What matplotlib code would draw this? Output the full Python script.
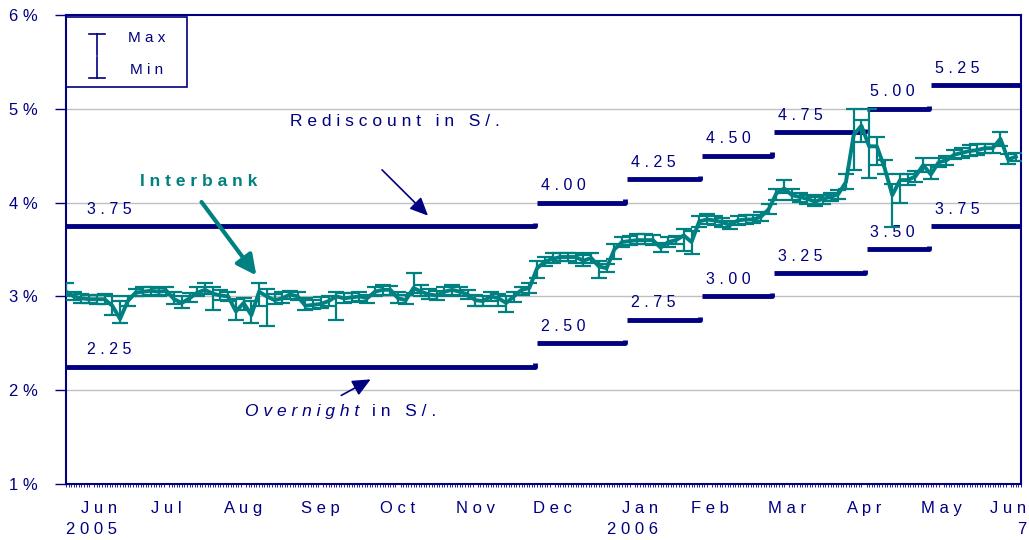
import matplotlib
matplotlib.use('Agg')
import matplotlib.pyplot as plt
import matplotlib.dates as mdates
import numpy as np
import pandas as pd

plt.rcParams['font.family'] = ['Liberation Sans', 'DejaVu Sans']

NAVY = '#000080'
TEAL = '#008080'

# interbank rate, sampled every 3 days from 1 Jun 2005
ib_dates = pd.date_range('2005-06-01', periods=124, freq='3D')
ib_mid = [3.05, 3.00, 2.98, 2.97, 2.97, 2.97, 2.90, 2.76, 2.95, 3.04,
          3.05, 3.06, 3.05, 3.06, 2.97, 2.93, 2.98, 3.04, 3.07, 3.03,
          3.01, 3.00, 2.84, 2.93, 2.80, 3.05, 3.00, 2.96, 2.98, 3.02,
          3.00, 2.90, 2.91, 2.92, 2.95, 3.00, 2.98, 2.99, 3.00, 2.98,
          3.05, 3.07, 3.07, 2.98, 2.96, 3.09, 3.05, 3.02, 3.01, 3.05,
          3.07, 3.05, 3.02, 2.96, 2.95, 3.00, 2.98, 2.93, 3.00, 3.07,
          3.09, 3.30, 3.37, 3.40, 3.42, 3.42, 3.42, 3.38, 3.41, 3.32,
          3.30, 3.50, 3.58, 3.59, 3.60, 3.60, 3.60, 3.52, 3.58, 3.60,
          3.65, 3.58, 3.80, 3.82, 3.81, 3.79, 3.76, 3.81, 3.82, 3.82,
          3.85, 3.93, 4.10, 4.15, 4.08, 4.06, 4.04, 4.01, 4.04, 4.06,
          4.09, 4.22, 4.72, 4.82, 4.60, 4.60, 4.37, 4.08, 4.24, 4.24,
          4.28, 4.40, 4.30, 4.43, 4.45, 4.51, 4.53, 4.55, 4.56, 4.58,
          4.58, 4.68, 4.46, 4.49]
ib_max = [3.14, 3.05, 3.03, 3.02, 3.02, 3.03, 3.00, 2.95, 3.00, 3.08,
          3.10, 3.10, 3.09, 3.10, 3.05, 3.00, 3.04, 3.10, 3.14, 3.10,
          3.07, 3.05, 2.97, 2.98, 2.95, 3.14, 3.08, 3.03, 3.05, 3.06,
          3.05, 2.98, 2.96, 2.99, 3.00, 3.05, 3.04, 3.04, 3.05, 3.02,
          3.10, 3.12, 3.11, 3.05, 3.02, 3.25, 3.12, 3.08, 3.06, 3.10,
          3.12, 3.10, 3.07, 3.01, 3.00, 3.05, 3.03, 3.00, 3.05, 3.10,
          3.14, 3.38, 3.42, 3.46, 3.46, 3.46, 3.46, 3.44, 3.46, 3.38,
          3.35, 3.56, 3.63, 3.64, 3.66, 3.66, 3.65, 3.57, 3.63, 3.64,
          3.72, 3.70, 3.86, 3.88, 3.86, 3.84, 3.80, 3.86, 3.87, 3.87,
          3.90, 3.98, 4.15, 4.24, 4.14, 4.10, 4.08, 4.06, 4.08, 4.10,
          4.13, 4.30, 5.00, 4.88, 5.00, 4.70, 4.45, 4.20, 4.30, 4.30,
          4.34, 4.48, 4.40, 4.48, 4.50, 4.56, 4.58, 4.61, 4.62, 4.63,
          4.62, 4.75, 4.52, 4.53]
ib_min = [3.00, 2.96, 2.93, 2.93, 2.92, 2.92, 2.80, 2.72, 2.90, 3.00,
          3.00, 3.02, 3.00, 3.01, 2.92, 2.88, 2.94, 3.00, 3.03, 2.85,
          2.96, 2.95, 2.75, 2.85, 2.72, 2.90, 2.68, 2.92, 2.93, 2.97,
          2.96, 2.86, 2.87, 2.88, 2.90, 2.75, 2.93, 2.94, 2.95, 2.93,
          3.00, 3.02, 3.02, 2.93, 2.92, 3.04, 3.00, 2.97, 2.96, 3.00,
          3.02, 3.00, 2.97, 2.90, 2.90, 2.95, 2.90, 2.83, 2.94, 3.02,
          3.04, 3.20, 3.32, 3.36, 3.38, 3.38, 3.36, 3.32, 3.36, 3.20,
          3.26, 3.40, 3.53, 3.55, 3.56, 3.56, 3.55, 3.47, 3.53, 3.56,
          3.48, 3.45, 3.74, 3.77, 3.76, 3.74, 3.72, 3.76, 3.77, 3.78,
          3.80, 3.88, 4.03, 4.10, 4.03, 4.01, 3.99, 3.96, 3.99, 4.02,
          4.04, 4.15, 4.35, 4.65, 4.26, 4.40, 4.30, 3.74, 4.00, 4.19,
          4.22, 4.33, 4.25, 4.38, 4.40, 4.46, 4.48, 4.50, 4.51, 4.53,
          4.53, 4.60, 4.41, 4.44]

# policy corridor
step_starts = ['2005-06-01', '2005-12-01', '2006-01-05', '2006-02-03',
               '2006-03-03', '2006-04-08', '2006-05-03']
end_date = '2006-06-07'
rediscount = [3.75, 4.00, 4.25, 4.50, 4.75, 5.00, 5.25]
overnight = [2.25, 2.50, 2.75, 3.00, 3.25, 3.50, 3.75]

tick_dates = ['2005-06-11', '2005-07-10', '2005-08-09', '2005-09-08',
              '2005-10-08', '2005-11-07', '2005-12-07', '2006-01-07',
              '2006-02-06', '2006-03-08', '2006-04-07', '2006-05-07',
              '2006-06-02']
tick_labels = ['Jun\n2005', 'Jul', 'Aug', 'Sep', 'Oct', 'Nov', 'Dec',
               'Jan\n2006', 'Feb', 'Mar', 'Apr', 'May', 'Jun\n7']


def sp(s):
    return '\n'.join(' '.join(line) for line in s.split('\n'))


fig = plt.figure(figsize=(10.29, 5.40), dpi=100)
ax = fig.add_axes([66 / 1029, 56 / 540, 955 / 1029, 469 / 540])

t0 = pd.Timestamp('2005-06-01')
t1 = pd.Timestamp(end_date)
ax.set_xlim(t0, t1)
ax.set_ylim(1, 6)

for y in [2, 3, 4, 5]:
    ax.axhline(y, color='#c0c0c0', lw=1, zorder=0)

# step lines with the little hook at the end of each segment
starts = [pd.Timestamp(s) for s in step_starts]
ends = starts[1:] + [t1]
gap = pd.Timedelta(hours=16)
for k, (s, e) in enumerate(zip(starts, ends)):
    last = k == len(starts) - 1
    for r in (rediscount[k], overnight[k]):
        if last:
            ax.plot([s, e], [r, r], color=NAVY, lw=3.5, solid_capstyle='butt', zorder=3)
        else:
            ax.plot([s, e - gap, e - gap], [r, r, r + 0.035], color=NAVY, lw=3.5,
                    solid_capstyle='butt', solid_joinstyle='round', zorder=3)
        off = pd.Timedelta(days=8 if k == 0 else 1.5)
        ax.text(s + off, r + 0.18, sp(f'{r:.2f}'), color=NAVY, fontsize=11.5,
                va='center', ha='left')

# interbank with max/min whiskers
mid = np.array(ib_mid)
err = [mid - np.array(ib_min), np.array(ib_max) - mid]
ax.errorbar(ib_dates, mid, yerr=err, color=TEAL, lw=2.8, elinewidth=1.6,
            capsize=6, capthick=1.6, zorder=4)

# annotations
d = lambda n: t0 + pd.Timedelta(days=n)
ax.text(d(87), 4.86, sp('Rediscount in S/.'), color=NAVY, fontsize=12.5, va='center')
ax.annotate('', xy=(d(141.4), 3.84), xytext=(d(122), 4.37),
            arrowprops=dict(arrowstyle='-|>,head_length=1.1,head_width=0.5',
                            color=NAVY, lw=1.2))
ax.text(d(28.7), 4.22, sp('Interbank'), color=TEAL, fontsize=12.5,
        fontweight='bold', va='center')
ax.annotate('', xy=(d(74.6), 3.20), xytext=(d(52), 4.03),
            arrowprops=dict(arrowstyle='-|>,head_length=1.2,head_width=0.6',
                            color=TEAL, lw=3))
ax.text(d(69.5), 1.77, sp('Overnight'), color=NAVY, fontsize=12.5,
        fontstyle='italic', va='center')
ax.text(d(119), 1.77, sp('in S/.'), color=NAVY, fontsize=12.5, va='center')
ax.annotate('', xy=(d(119.3), 2.13), xytext=(d(106), 1.93),
            arrowprops=dict(arrowstyle='-|>,head_length=1.1,head_width=0.5',
                            color=NAVY, lw=1.2))

# legend box
ax.add_patch(plt.Rectangle((0.0, 0.846), 0.127, 0.15, transform=ax.transAxes,
                           fill=False, edgecolor=NAVY, lw=1.2, zorder=5))
lx = 0.0325
ax.plot([lx, lx], [0.915, 0.96], color=NAVY, lw=1.2, transform=ax.transAxes)
ax.plot([lx - 0.008, lx + 0.008], [0.96, 0.96], color=NAVY, lw=1.2, transform=ax.transAxes)
ax.plot([lx, lx], [0.865, 0.91], color=NAVY, lw=1.2, transform=ax.transAxes)
ax.plot([lx - 0.008, lx + 0.008], [0.865, 0.865], color=NAVY, lw=1.2, transform=ax.transAxes)
ax.text(0.065, 0.95, sp('Max'), color=NAVY, fontsize=11, va='center',
        transform=ax.transAxes)
ax.text(0.067, 0.882, sp('Min'), color=NAVY, fontsize=11, va='center',
        transform=ax.transAxes)

# axes styling
for s in ax.spines.values():
    s.set_color(NAVY)
    s.set_linewidth(1.5)

ax.set_yticks([1, 2, 3, 4, 5, 6])
ax.set_yticklabels([sp(f'{v}%') for v in range(1, 7)])
ax.tick_params(axis='y', colors=NAVY, labelcolor=NAVY, labelsize=12,
               length=8, width=1, direction='out', pad=12)

ax.set_xticks([pd.Timestamp(t) for t in tick_dates])
ax.set_xticklabels([sp(t) for t in tick_labels], multialignment='right',
                   linespacing=1.55)
ax.xaxis.set_minor_locator(mdates.DayLocator())
ax.tick_params(axis='x', which='major', length=0, labelsize=12, labelcolor=NAVY, pad=12)
ax.tick_params(axis='x', which='minor', length=2.5, width=0.6, color=NAVY, direction='out')

fig.savefig('out.png', dpi=100)
